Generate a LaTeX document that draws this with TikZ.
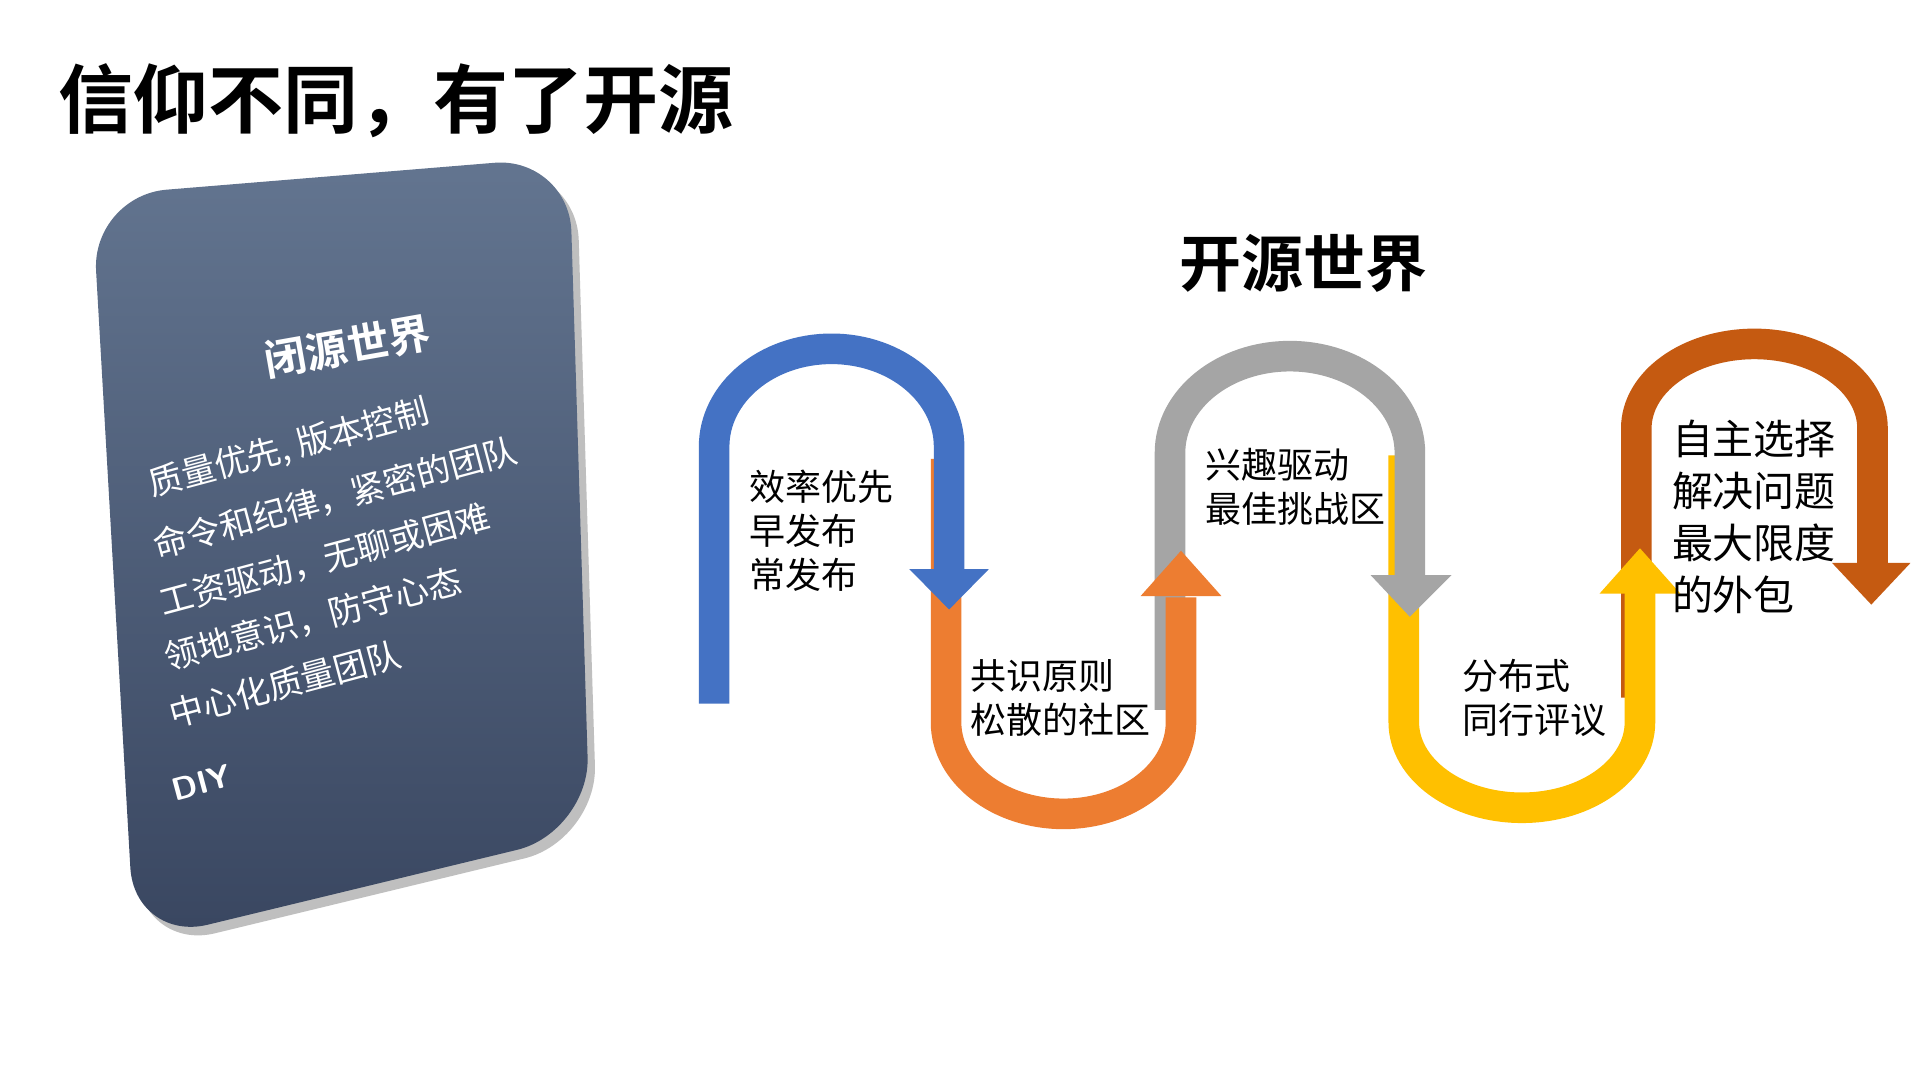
\documentclass[tikz,border=0pt]{standalone}
\usepackage{fontspec}
\newfontfamily\cjk{Noto Sans CJK SC}
\newfontfamily\cjkb{Noto Sans CJK SC Bold}
\definecolor{cB}{HTML}{4472C4}
\definecolor{cO}{HTML}{ED7D31}
\definecolor{cG}{HTML}{A5A5A5}
\definecolor{cY}{HTML}{FFC000}
\definecolor{cD}{HTML}{C55A11}
\begin{document}
\begin{tikzpicture}[x=1.224pt,y=-1.224pt,
  band/.style={line width=30.6pt},
  lbl/.style={font=\cjk\fontsize{36}{44}\selectfont,anchor=west,align=left,inner sep=0},
  card/.style={font=\cjk\fontsize{34}{40}\selectfont,text=white,anchor=west,inner sep=0,rotate=15}]
\useasboundingbox (0,0) rectangle (1568,880);
\fill[white] (0,0) rectangle (1568,880);
\node[font=\cjkb\fontsize{75}{82}\selectfont,anchor=west,inner sep=0] (title) at (48,82) {信仰不同，有了开源};
\node[font=\cjkb\fontsize{62}{70}\selectfont,inner sep=0] (open) at (1065,215) {开源世界};
% card
\fill[black!25,rounded corners=75pt] (81,167) -- (471,135) -- (488,687) -- (116,777) -- cycle;
\shade[top color={rgb,255:red,99;green,117;blue,144},bottom color={rgb,255:red,57;green,70;blue,96},rounded corners=75pt] (75,160) -- (465,128) -- (482,680) -- (110,770) -- cycle;
\node[font=\cjkb\fontsize{42}{48}\selectfont,text=white,rotate=10,inner sep=0] (ct) at (284,283) {闭源世界};
\node[card] (c1) at (122,397) {质量优先, 版本控制};
\node[card] (c2) at (126,446) {命令和纪律，紧密的团队};
\node[card] (c3) at (131,493) {工资驱动，无聊或困难};
\node[card] (c4) at (135,538) {领地意识，防守心态};
\node[card] (c5) at (139,584) {中心化质量团队};
\node[card,font=\sffamily\bfseries\fontsize{32}{38}\selectfont] (c6) at (141,646) {DIY};
% dark orange
\draw[band,cD] (1337,570) -- (1337,350) arc[start angle=180,end angle=360,x radius=96.5,y radius=69] -- (1530,462);
\fill[cD] (1497,460) -- (1561,460) -- (1529,494) -- cycle;
% yellow
\draw[band,cY] (1147,372) -- (1147,590) arc[start angle=180,end angle=0,x radius=96.5,y radius=70] -- (1340,484);
\fill[cY] (1307,485) -- (1373,485) -- (1340,448) -- cycle;
% gray
\draw[band,cG] (956,580) -- (956,370) arc[start angle=180,end angle=360,x radius=98,y radius=79] -- (1152,472);
\fill[cG] (1120,470) -- (1186,470) -- (1152,504) -- cycle;
% orange
\draw[band,cO] (773,375) -- (773,590) arc[start angle=180,end angle=0,x radius=96,y radius=75] -- (965,488);
\fill[cO] (932,487) -- (998,487) -- (965,450) -- cycle;
% blue
\draw[band,cB] (583.5,575) -- (583.5,365) arc[start angle=180,end angle=360,x radius=96,y radius=80] -- (775.5,467);
\fill[cB] (743,465) -- (808,465) -- (775.5,498) -- cycle;
% labels
\node[lbl] (t1) at (612,434) {效率优先\\早发布\\常发布};
\node[lbl] (t2) at (793,570) {共识原则\\松散的社区};
\node[lbl] (t3) at (985,398) {兴趣驱动\\最佳挑战区};
\node[lbl] (t4) at (1195,570) {分布式\\同行评议};
\node[lbl,font=\cjk\fontsize{41}{52}\selectfont] (t5) at (1366,422) {自主选择\\解决问题\\最大限度\\的外包};
\end{tikzpicture}
\end{document}
